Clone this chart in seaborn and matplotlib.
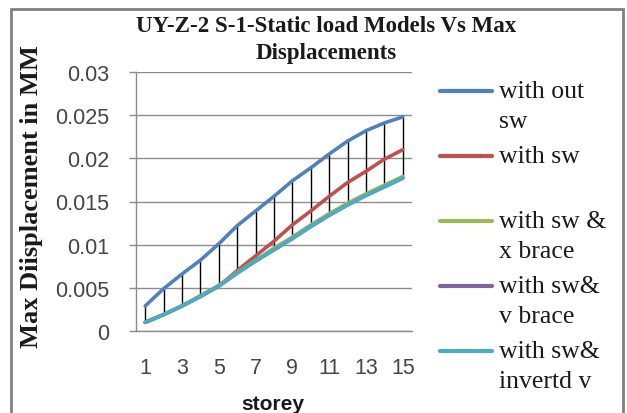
import matplotlib
matplotlib.use("Agg")
import matplotlib.pyplot as plt
from matplotlib.lines import Line2D
from matplotlib.patches import Rectangle
import seaborn as sns
import pandas as pd
import numpy as np

storey = list(range(1, 16))
with_out_sw = [0.0029, 0.0049, 0.0066, 0.0082, 0.0101, 0.0122, 0.0139, 0.0156,
               0.0174, 0.0189, 0.0205, 0.0220, 0.0232, 0.0241, 0.0248]
with_sw = [0.0010, 0.0019, 0.0029, 0.0040, 0.0052, 0.0070, 0.0087, 0.0104,
           0.0123, 0.0139, 0.0156, 0.0172, 0.0185, 0.0199, 0.0210]
with_sw_x_brace = [0.0010, 0.0019, 0.0029, 0.0041, 0.0053, 0.0068, 0.0082, 0.0096,
                   0.0109, 0.0123, 0.0136, 0.0148, 0.0159, 0.0169, 0.0179]
with_sw_v_brace = [0.0010, 0.0019, 0.0029, 0.0040, 0.0052, 0.0067, 0.0081, 0.0094,
                   0.0107, 0.0121, 0.0134, 0.0146, 0.0157, 0.0167, 0.0177]
with_sw_invertd_v = [0.0010, 0.0019, 0.0029, 0.0040, 0.0052, 0.0067, 0.0081, 0.0094,
                     0.0107, 0.0121, 0.0134, 0.0146, 0.0157, 0.0167, 0.0177]

series_names = ["with out\nsw", "with sw", "with sw &\nx brace",
                "with sw&\nv brace", "with sw&\ninvertd v"]
series_values = [with_out_sw, with_sw, with_sw_x_brace, with_sw_v_brace, with_sw_invertd_v]
colors = ["#4F81BD", "#C0504D", "#9BBB59", "#8064A2", "#4BACC6"]
x_ticks = [1, 3, 5, 7, 9, 11, 13, 15]
y_ticks = [0, 0.005, 0.01, 0.015, 0.02, 0.025, 0.03]
y_tick_labels = ["0", "0.005", "0.01", "0.015", "0.02", "0.025", "0.03"]

sns.set_theme(style="white")
plt.rcParams["font.family"] = ["DejaVu Sans"]

W, H = 627, 414
fig = plt.figure(figsize=(W / 100, H / 100), dpi=100)
ax = fig.add_axes([136 / W, 1 - 332 / H, (412 - 136) / W, (332 - 73) / H])

rows = []
for name, vals in zip(series_names, series_values):
    for s, v in zip(storey, vals):
        rows.append({"storey": s, "value": v, "series": name})
df = pd.DataFrame(rows)

# drop lines (high-low lines)
arr = np.array(series_values)
ax.vlines(storey, arr.min(axis=0), arr.max(axis=0), color="black", lw=1.0, zorder=3)

sns.lineplot(data=df, x="storey", y="value", hue="series", palette=colors,
             hue_order=series_names, ax=ax, lw=2.6, legend=False, zorder=4,
             estimator=None, sort=False)

ax.set_xlim(0.5, 15.5)
ax.set_ylim(0, 0.03)
ax.set_xticks(x_ticks)
ax.set_xticklabels([str(t) for t in x_ticks])
ax.set_yticks(y_ticks)
ax.set_yticklabels(y_tick_labels)
ax.grid(axis="y", color="#8c8c8c", lw=1.0)
ax.grid(axis="x", visible=False)
for side in ["top", "right"]:
    ax.spines[side].set_visible(False)
for side in ["left", "bottom"]:
    ax.spines[side].set_color("#8c8c8c")
    ax.spines[side].set_linewidth(1.0)
ax.tick_params(axis="y", which="major", length=5, width=1.0, color="#8c8c8c",
               left=True, pad=14)
ax.tick_params(axis="x", length=0, pad=19)
for lab in ax.get_xticklabels() + ax.get_yticklabels():
    lab.set_fontfamily("Liberation Sans")
    lab.set_fontsize(15.5)
    lab.set_color("#454545")
ax.set_xlabel("")
ax.set_ylabel("")

fig.text(32 / W, 1 - 197 / H, "Max Diisplacement in MM", rotation=90,
         ha="center", va="center", fontfamily="Liberation Serif",
         fontweight="bold", fontsize=19, color="#1a1a1a")
fig.text(273 / W, 1 - 405 / H, "storey", ha="center", va="center",
         fontfamily="Liberation Sans", fontweight="bold", fontsize=15, color="#1a1a1a")
fig.text(326 / W, 1 - 27 / H, "UY-Z-2 S-1-Static load Models Vs Max",
         ha="center", va="center", fontfamily="Liberation Serif",
         fontweight="bold", fontsize=16.5, color="#1a1a1a")
fig.text(326 / W, 1 - 54 / H, "Displacements",
         ha="center", va="center", fontfamily="Liberation Serif",
         fontweight="bold", fontsize=16.5, color="#1a1a1a")

# legend
entry_y = [92, 157, 222, 287, 352]
for name, col, yy in zip(series_names, colors, entry_y):
    fig.add_artist(Line2D([440 / W, 492 / W], [1 - yy / H, 1 - yy / H],
                          color=col, lw=3, transform=fig.transFigure))
    lines = name.split("\n")
    for i, ln in enumerate(lines):
        fig.text(499 / W, 1 - (yy + 30 * i) / H, ln, ha="left", va="center",
                 fontfamily="Liberation Serif", fontsize=18.5, color="#1a1a1a")

# figure border
fig.add_artist(Rectangle((11 / W, -0.02), (623 - 11) / W, 1 - 10 / H + 0.02,
                         transform=fig.transFigure, fill=False,
                         edgecolor="#808080", lw=2))

fig.savefig("out.png", dpi=100)
